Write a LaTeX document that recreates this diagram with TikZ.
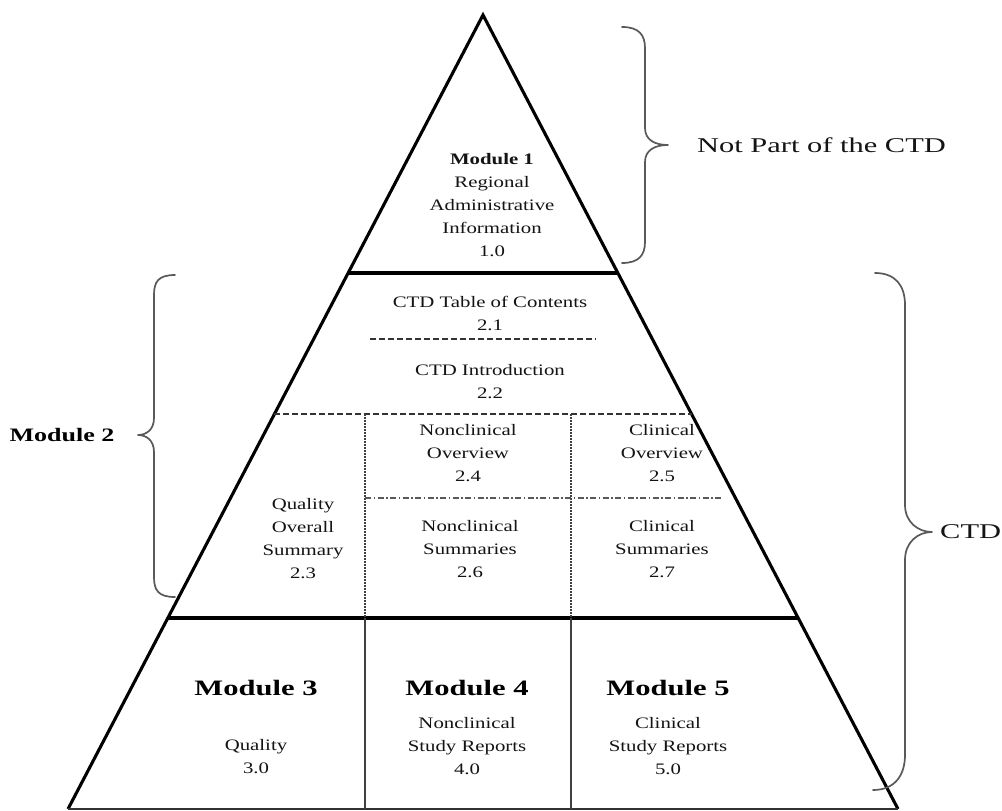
\documentclass[tikz,border=0pt]{standalone}
\usepackage{fontspec}
\setmainfont{Liberation Serif}
\usepackage{graphicx}
\usetikzlibrary{calc}
% a centred block of lines, stretched horizontally
\newcommand{\wblk}[2]{\scalebox{#1}[1]{\begin{tabular}{@{}c@{}}#2\end{tabular}}}
\begin{document}
\begin{tikzpicture}[x=1pt,y=-1pt,
  side/.style={line width=3.1pt, line join=miter, miter limit=20},
  split/.style={line width=3.4pt},
  col/.style={line width=1.9pt, black!75},
  dotcol/.style={line width=1.5pt, black!75, dash pattern=on 1.6pt off 1.4pt},
  dashsep/.style={line width=1.2pt, black!80, dash pattern=on 6pt off 3pt},
  dashdotsep/.style={line width=1.2pt, black!65, dash pattern=on 6pt off 2.5pt on 1.5pt off 2.5pt},
  brace/.style={line width=1.7pt, black!65, line cap=round, line join=round},
  small/.style={font=\fontsize{16}{23}\selectfont, inner sep=0pt, text=black!92},
  title/.style={font=\fontsize{22}{26}\selectfont\bfseries, inner sep=0pt, text=black},
  big/.style={font=\fontsize{21}{25}\selectfont, inner sep=0pt, text=black!92},
]
\useasboundingbox (0,0) rectangle (1002,811);
\fill[white] (0,0) rectangle (1002,811);

% pyramid corners
\coordinate (apex) at (483,15);
\coordinate (bl) at (68,809);
\coordinate (br) at (898,809);

% points where the horizontal bands meet the sides
\coordinate (l1) at ($(apex)!0.3249!(bl)$);
\coordinate (r1) at ($(apex)!0.3249!(br)$);
\coordinate (l2) at ($(apex)!0.5025!(bl)$);
\coordinate (r2) at ($(apex)!0.5025!(br)$);
\coordinate (l3) at ($(apex)!0.7594!(bl)$);
\coordinate (r3) at ($(apex)!0.7594!(br)$);

% outline
\draw[side] (bl) -- (apex) -- (br);
\draw[line width=1.6pt, black!80] (bl) -- (br);

% band boundaries
\draw[split] (l1) -- (r1);
\draw[split, line width=4pt] (l3) -- (r3);

% module 2 subdivisions
\coordinate (t1) at (370,339);
\coordinate (t2) at (596,339);
\draw[dashsep] (t1) -- (t2);
\draw[dashsep] (l2) -- (r2);
\coordinate (c1top) at (365,414);
\coordinate (c2top) at (571,414);
\coordinate (c1mid) at (365,618);
\coordinate (c2mid) at (571,618);
\coordinate (c1bot) at (365,809);
\coordinate (c2bot) at (571,809);
\draw[dotcol] (c1top) -- (c1mid);
\draw[dotcol] (c2top) -- (c2mid);
\coordinate (dd1) at (365,498);
\coordinate (dd2) at (723,498);
\draw[dashdotsep] (dd1) -- (dd2);

% modules 3 to 5 columns
\draw[col] (c1mid) -- (c1bot);
\draw[col] (c2mid) -- (c2bot);

% module 1
\node[small] (m1) at (492,206) {\wblk{1.3}{\textbf{Module 1}\\Regional\\Administrative\\Information\\1.0}};

% module 2
\node[small] (toc) at (490,314) {\wblk{1.3}{CTD Table of Contents\\2.1}};
\node[small] (intro) at (490,382.5) {\wblk{1.3}{CTD Introduction\\2.2}};
\node[small] (nco) at (468,454) {\wblk{1.3}{Nonclinical\\Overview\\2.4}};
\node[small] (co) at (662,454) {\wblk{1.3}{Clinical\\Overview\\2.5}};
\node[small] (qos) at (303,539) {\wblk{1.3}{Quality\\Overall\\Summary\\2.3}};
\node[small] (ncs) at (470,550) {\wblk{1.3}{Nonclinical\\Summaries\\2.6}};
\node[small] (cs) at (662,550) {\wblk{1.3}{Clinical\\Summaries\\2.7}};

% modules 3, 4, 5
\node[title] (m3) at (256,688) {\scalebox{1.39}[1]{Module 3}};
\node[title] (m4) at (467,688) {\scalebox{1.39}[1]{Module 4}};
\node[title] (m5) at (668,688) {\scalebox{1.39}[1]{Module 5}};
\node[small] (m3t) at (256,757.5) {\wblk{1.3}{Quality\\3.0}};
\node[small] (m4t) at (467,746.5) {\wblk{1.3}{Nonclinical\\Study Reports\\4.0}};
\node[small] (m5t) at (668,746.5) {\wblk{1.3}{Clinical\\Study Reports\\5.0}};

% braces and their labels
\draw[brace] (622,27) .. controls (639,27) and (645,35) .. (645,48) -- (645,128)
  .. controls (645,140) and (655,145) .. (668,145)
  .. controls (655,145) and (645,150) .. (645,162) -- (645,242)
  .. controls (645,255) and (639,263) .. (622,263);
\node[big, anchor=west] (notctd) at (697,145) {\scalebox{1.45}[1]{Not Part of the CTD}};

\draw[brace] (175,275) .. controls (158,275) and (154,282) .. (154,295) -- (154,418)
  .. controls (154,430) and (146,435) .. (138,435)
  .. controls (146,435) and (154,440) .. (154,452) -- (154,577)
  .. controls (154,590) and (158,597) .. (175,597);
\node[font=\fontsize{19}{23}\selectfont\bfseries, inner sep=0pt, text=black] (mod2) at (62,435) {\scalebox{1.37}[1]{Module 2}};

\draw[brace] (875,273) .. controls (895,273) and (905,285) .. (905,305) -- (905,505)
  .. controls (905,522) and (918,532) .. (932,532)
  .. controls (918,532) and (905,542) .. (905,560) -- (905,755)
  .. controls (905,775) and (895,790) .. (873,790);
\node[big, anchor=west] (ctd) at (940,532) {\scalebox{1.45}[1]{CTD}};
\end{tikzpicture}
\end{document}
